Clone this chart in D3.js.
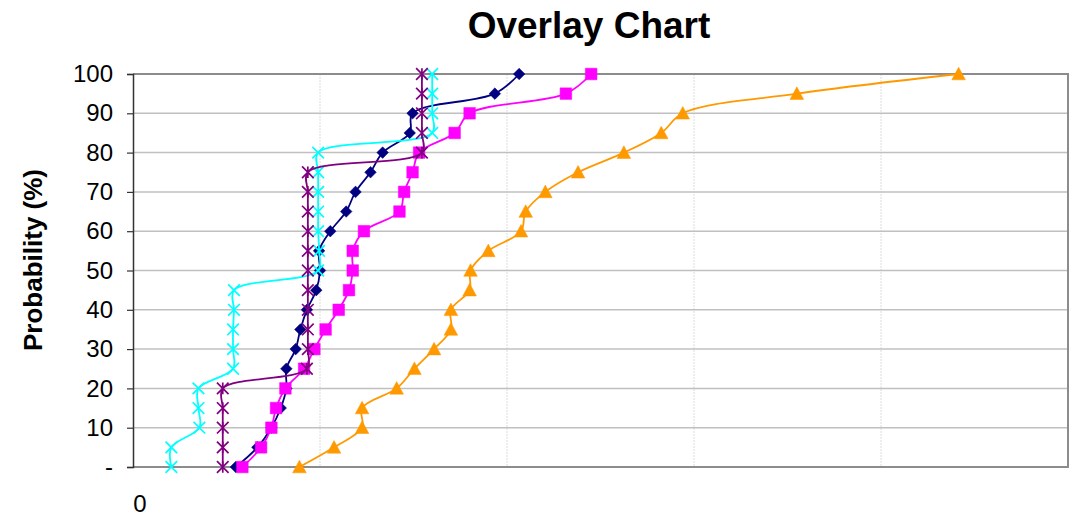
<!DOCTYPE html>
<html>
<head>
    <title>Overlay Chart</title>
    <script src="https://d3js.org/d3.v7.min.js"></script>
    <style>
        body {
            background: #fff;
            margin: 0;
            overflow: hidden;
            font-family: 'Liberation Sans', Arial, sans-serif;
        }
        text { font-family: 'Liberation Sans', Arial, sans-serif; fill: #000; }
        .title { font-size: 37px; font-weight: bold; }
        .ytitle { font-size: 26px; font-weight: bold; }
        .tick-label { font-size: 24px; }
        .hgrid { stroke: #c0c0c0; stroke-width: 1.5px; }
        .vgrid { stroke: #dcdcdc; stroke-width: 1px; stroke-dasharray: 2,1; }
        .series { fill: none; stroke-width: 1.8px; }
    </style>
</head>
<body>
<svg width="1073" height="519"></svg>

<script>
// DATA ========================================================
// probability levels (%), shared by every series
const probability = [0, 5, 10, 15, 20, 25, 30, 35, 40, 45, 50,
                     55, 60, 65, 70, 75, 80, 85, 90, 95, 100];
const yTickValues = [0, 10, 20, 30, 40, 50, 60, 70, 80, 90, 100];
const xGridValues = [20, 40, 60, 80];

// x values (axis has no printed scale besides 0)
const seriesNavy    = [11.0, 13.3, 14.8, 15.8, 16.4, 16.4, 17.4, 17.9, 18.6, 19.6, 20.0,
                       19.9, 21.1, 22.8, 23.8, 25.4, 26.7, 29.6, 29.9, 38.7, 41.3];
const seriesMagenta = [11.7, 13.7, 14.8, 15.3, 16.3, 18.3, 19.4, 20.6, 22.0, 23.1, 23.5,
                       23.5, 24.7, 28.5, 29.0, 29.9, 30.6, 34.4, 36.0, 46.3, 49.0];
const seriesOrange  = [17.8, 21.5, 24.5, 24.5, 28.2, 30.1, 32.2, 34.0, 34.0, 36.0, 36.1,
                       38.0, 41.5, 42.0, 44.1, 47.6, 52.5, 56.5, 58.8, 71.0, 88.3];
const seriesCyan    = [4.1, 4.1, 7.1, 7.0, 7.0, 10.7, 10.7, 10.7, 10.8, 10.8, 19.8,
                       19.9, 19.8, 19.8, 19.8, 19.8, 19.8, 32.0, 32.0, 32.0, 32.0];
const seriesPurple  = [9.6, 9.6, 9.6, 9.6, 9.6, 18.6, 18.7, 18.7, 18.7, 18.7, 18.7,
                       18.7, 18.7, 18.7, 18.7, 18.7, 30.9, 30.9, 30.9, 30.9, 30.9];

const seriesList = [
    {values: seriesNavy,    color: "#000080", marker: "diamond"},
    {values: seriesMagenta, color: "#ff00ff", marker: "square"},
    {values: seriesOrange,  color: "#ff9900", marker: "triangle"},
    {values: seriesCyan,    color: "#00ffff", marker: "x"},
    {values: seriesPurple,  color: "#800080", marker: "star"}
];

// LAYOUT ======================================================
const svg = d3.select("svg");
const margin = {left: 133, top: 74, right: 1068, bottom: 467};

const x = d3.scaleLinear().domain([0, 100]).range([margin.left, margin.right]);
const y = d3.scaleLinear().domain([0, 100]).range([margin.bottom, margin.top]);

// GRID ========================================================
svg.append("g")
    .selectAll("line")
    .data(xGridValues)
    .join("line")
    .attr("class", "vgrid")
    .attr("x1", d => x(d)).attr("x2", d => x(d))
    .attr("y1", margin.top).attr("y2", margin.bottom);

svg.append("g")
    .selectAll("line")
    .data(yTickValues.slice(1, -1))
    .join("line")
    .attr("class", "hgrid")
    .attr("x1", margin.left).attr("x2", margin.right)
    .attr("y1", d => y(d)).attr("y2", d => y(d));

// plot frame (top, right, bottom grey)
svg.append("path")
    .attr("d", `M${margin.left},${margin.top}H${margin.right}V${margin.bottom}H${margin.left}`)
    .attr("fill", "none")
    .attr("stroke", "#8c8c8c")
    .attr("stroke-width", 2);

// AXES ========================================================
const yAxis = d3.axisLeft(y)
    .tickValues(yTickValues)
    .tickSize(6)
    .tickPadding(14)
    .tickFormat(d => d === 0 ? "-" : d);

const yAxisG = svg.append("g")
    .attr("transform", `translate(${margin.left},0)`)
    .call(yAxis);
yAxisG.select(".domain").attr("stroke", "#333").attr("stroke-width", 1.5);
yAxisG.selectAll(".tick line").attr("stroke", "#333").attr("stroke-width", 1.2);
yAxisG.selectAll(".tick text")
    .attr("class", "tick-label")
    .attr("font-family", null)
    .attr("font-size", null);

// x axis shows only the zero label
svg.append("text")
    .attr("class", "tick-label")
    .attr("x", x(0) + 7)
    .attr("y", 512)
    .attr("text-anchor", "middle")
    .text("0");

// TITLES ======================================================
svg.append("text")
    .attr("class", "title")
    .attr("x", 589)
    .attr("y", 38)
    .attr("text-anchor", "middle")
    .text("Overlay Chart");

svg.append("text")
    .attr("class", "ytitle")
    .attr("transform", "translate(42,260) rotate(-90)")
    .attr("text-anchor", "middle")
    .text("Probability (%)");

// SERIES ======================================================
const line = d3.line()
    .x(d => x(d.x))
    .y(d => y(d.p))
    .curve(d3.curveCatmullRom.alpha(0.5));

function markerPath(type) {
    const s = 5.8;
    switch (type) {
        case "diamond":  return `M0,${-s}L${s},0L0,${s}L${-s},0Z`;
        case "square":   return `M${-s},${-s}H${s}V${s}H${-s}Z`;
        case "triangle": return `M0,${-s - 1}L${s + 1},${s}H${-s - 1}Z`;
        case "x":        return `M${-s},${-s}L${s},${s}M${-s},${s}L${s},${-s}`;
        case "star":     return `M${-s},${-s}L${s},${s}M${-s},${s}L${s},${-s}M0,${-s}V${s}`;
    }
}

seriesList.forEach(s => {
    const pts = s.values.map((v, i) => ({x: v, p: probability[i]}));
    const g = svg.append("g");

    g.append("path")
        .datum(pts)
        .attr("class", "series")
        .attr("stroke", s.color)
        .attr("d", line);

    const open = s.marker === "x" || s.marker === "star";
    g.selectAll("path.marker")
        .data(pts)
        .join("path")
        .attr("class", "marker")
        .attr("transform", d => `translate(${x(d.x)},${y(d.p)})`)
        .attr("d", markerPath(s.marker))
        .attr("fill", open ? "none" : s.color)
        .attr("stroke", s.color)
        .attr("stroke-width", open ? 1.7 : 0.5);
});
</script>
</body>
</html>
